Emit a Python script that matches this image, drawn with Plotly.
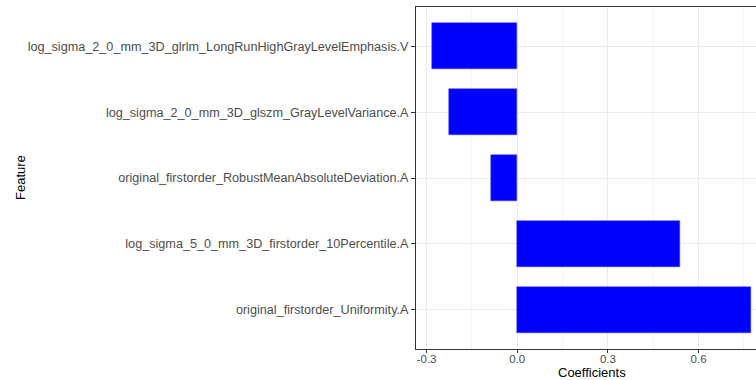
import plotly.graph_objects as go

# Model coefficients per radiomic feature (bottom to top)
features = [
    "original_firstorder_Uniformity.A",
    "log_sigma_5_0_mm_3D_firstorder_10Percentile.A",
    "original_firstorder_RobustMeanAbsoluteDeviation.A",
    "log_sigma_2_0_mm_3D_glszm_GrayLevelVariance.A",
    "log_sigma_2_0_mm_3D_glrlm_LongRunHighGrayLevelEmphasis.V",
]
coefficients = [0.774, 0.538, -0.088, -0.225, -0.282]

x_tick_vals = [-0.3, 0.0, 0.3, 0.6]
x_tick_text = ["-0.3", "0.0", "0.3", "0.6"]

W, H = 756, 380
L, R, T, B = 416, 0, 7, 31
pw = W - L - R

fig = go.Figure(
    go.Bar(
        x=coefficients,
        y=features,
        orientation="h",
        width=0.7,
        marker=dict(color="#0000FF", line=dict(color="#3a3aff", width=0.5)),
    )
)

font_family = "Liberation Sans, Arial, sans-serif"
y_font = dict(family=font_family, size=12.65, color="#4d4d4d")
x_font = dict(family=font_family, size=11.5, color="#4d4d4d")

fig.update_layout(
    width=W,
    height=H,
    margin=dict(l=L, r=R, t=T, b=B),
    paper_bgcolor="white",
    plot_bgcolor="white",
    showlegend=False,
    bargap=0,
    xaxis=dict(
        range=[-0.335, 0.79],
        tickvals=x_tick_vals,
        ticktext=x_tick_text,
        tickfont=x_font,
        ticks="outside",
        ticklen=3,
        tickcolor="#333333",
        ticklabelstandoff=-4,
        showline=True,
        linecolor="#333333",
        linewidth=1,
        mirror=True,
        showgrid=True,
        gridcolor="#ebebeb",
        gridwidth=1,
        zeroline=False,
        minor=dict(tick0=-0.15, dtick=0.3, showgrid=True, gridcolor="#f4f4f4", gridwidth=0.6),
    ),
    yaxis=dict(
        categoryorder="array",
        categoryarray=features,
        range=[-0.6, 4.6],
        tickfont=y_font,
        ticks="outside",
        ticklen=4,
        tickcolor="#333333",
        showline=True,
        linecolor="#333333",
        linewidth=1,
        showgrid=True,
        gridcolor="#ebebeb",
        gridwidth=1,
        zeroline=False,
    ),
    annotations=[
        dict(
            text="Coefficients",
            xref="paper", yref="paper",
            x=(591.5 - L) / pw, y=-(372.5 - (H - B)) / (H - T - B),
            xanchor="center", yanchor="middle",
            showarrow=False,
            font=dict(family=font_family, size=13, color="black"),
        ),
        dict(
            text="Feature",
            xref="paper", yref="paper",
            x=(20 - L) / pw, y=0.5,
            xanchor="center", yanchor="middle",
            textangle=-90,
            showarrow=False,
            font=dict(family=font_family, size=13, color="black"),
        ),
    ],
)

fig.write_html("out.html")
